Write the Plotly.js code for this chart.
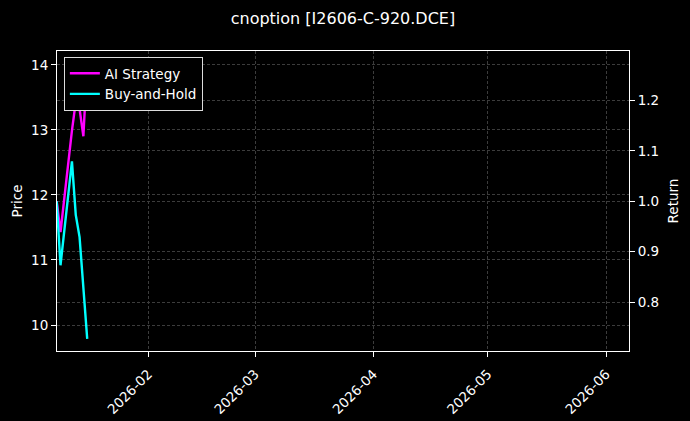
<!DOCTYPE html>
<html>
<head>
<meta charset="utf-8">
<script src="https://cdn.plot.ly/plotly-3.0.1.min.js"></script>
<style>
  html, body { margin: 0; padding: 0; background: #000; }
  #chart { width: 690px; height: 421px; }
</style>
</head>
<body>
<div id="chart"></div>
<script>
// trading days shown in the chart
var dates = ['2026-01-08', '2026-01-09', '2026-01-12', '2026-01-13', '2026-01-14', '2026-01-15', '2026-01-16'];
// cumulative returns
var aiStrategy = [1.0, 0.939, 1.14, 1.197, 1.183, 1.129, 1.277];
var buyHold = [1.0, 0.873, 1.079, 0.973, 0.929, 0.83, 0.727];

var fontFam = 'DejaVu Sans, sans-serif';
var gridCol = '#3c3c3c';

var trace1 = {
  x: dates,
  y: aiStrategy,
  name: 'AI Strategy',
  type: 'scatter',
  mode: 'lines',
  yaxis: 'y2',
  line: {color: '#ff00ff', width: 2.4}
};

var trace2 = {
  x: dates,
  y: buyHold,
  name: 'Buy-and-Hold',
  type: 'scatter',
  mode: 'lines',
  yaxis: 'y2',
  line: {color: '#00ffff', width: 2.4}
};

// keeps the price axis alive
var priceAxis = {x: [], y: [], type: 'scatter', mode: 'lines', showlegend: false, hoverinfo: 'skip'};

var layout = {
  width: 690,
  height: 421,
  paper_bgcolor: '#000',
  plot_bgcolor: '#000',
  font: {family: fontFam, color: '#fff', size: 13.5},
  title: {text: 'cnoption [I2606-C-920.DCE]', x: 0.497, xanchor: 'center', y: 0.97, font: {size: 16, color: '#fff'}},
  margin: {l: 57, r: 61, t: 51, b: 70, pad: 0},
  showlegend: true,
  legend: {
    x: 0.012, y: 0.98, xanchor: 'left', yanchor: 'top',
    bgcolor: '#000', bordercolor: '#ddd', borderwidth: 1,
    font: {size: 13.5, color: '#fff'},
    itemwidth: 30,
    tracegroupgap: 0
  },
  xaxis: {
    type: 'date',
    range: ['2026-01-08 02:00', '2026-06-07'],
    tick0: '2026-02-01',
    dtick: 'M1',
    tickformat: '%Y-%m',
    tickangle: -45,
    ticklabelstandoff: 4,
    ticks: 'outside', ticklen: 5, tickcolor: '#fff',
    showline: true, linecolor: '#fff', linewidth: 1, mirror: true,
    showgrid: true, gridcolor: gridCol, griddash: '3px,2px', gridwidth: 0.6,
    zeroline: false,
    tickfont: {size: 13.5}
  },
  yaxis: {
    title: {text: 'Price', font: {size: 13.5}, standoff: 5},
    range: [9.6, 14.215],
    dtick: 1,
    ticks: 'outside', ticklen: 5, tickcolor: '#fff',
    showline: true, linecolor: '#fff', linewidth: 1,
    showgrid: true, gridcolor: gridCol, griddash: '3px,2px', gridwidth: 0.6,
    zeroline: false,
    tickfont: {size: 13.5}
  },
  yaxis2: {
    title: {text: 'Return', font: {size: 13.5}, standoff: 10},
    overlaying: 'y',
    side: 'right',
    range: [0.703, 1.298],
    dtick: 0.1,
    tickformat: '.1f',
    ticks: 'outside', ticklen: 5, tickcolor: '#fff',
    showline: true, linecolor: '#fff', linewidth: 1,
    showgrid: true, gridcolor: gridCol, griddash: '3px,2px', gridwidth: 0.6,
    zeroline: false,
    tickfont: {size: 13.5}
  }
};

Plotly.newPlot('chart', [priceAxis, trace1, trace2], layout, {displayModeBar: false});
</script>
</body>
</html>
